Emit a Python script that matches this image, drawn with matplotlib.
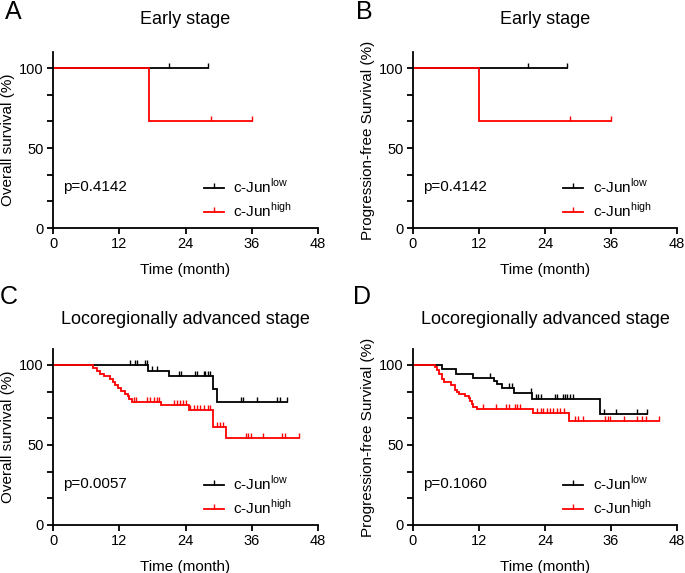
import numpy as np
import matplotlib
matplotlib.use("Agg")
import matplotlib.pyplot as plt
from matplotlib.lines import Line2D
from matplotlib.ticker import AutoMinorLocator

plt.rcParams['font.family'] = ['Liberation Sans', 'DejaVu Sans']

# ---- data (months, survival %) ----
# A: overall survival, early stage
a_low_t = [0]
a_low_s = [100]
a_low_end = 28
a_low_cens = [21, 28]
a_high_t = [0, 17.3]
a_high_s = [100, 66.7]
a_high_end = 36
a_high_cens = [28.6, 36]

# B: progression-free survival, early stage
b_low_t = [0]
b_low_s = [100]
b_low_end = 28
b_low_cens = [21, 28]
b_high_t = [0, 12]
b_high_s = [100, 66.7]
b_high_end = 36
b_high_cens = [28.6, 36]

# C: overall survival, locoregionally advanced stage
c_low_t = [0, 17.2, 21.1, 28.9, 29.7]
c_low_s = [100, 96.5, 93.2, 85.3, 76.6]
c_low_end = 42.4
c_low_cens = [14.0, 14.9, 15.3, 16.6, 17.0, 18.0, 18.8, 22.8, 23.2, 25.8, 26.1,
              27.3, 27.6, 28.0, 28.5, 34.0, 34.5, 36.9, 40.6, 41.1, 42.4]
c_high_t = [0, 7.3, 7.9, 8.5, 9.2, 10.3, 10.8, 11.2, 11.8, 12.4, 13.0, 13.5, 13.8, 14.3,
            19.5, 24.6, 29.0, 31.4]
c_high_s = [100, 98.2, 96.4, 94.6, 92.9, 91.1, 89.3, 87.5, 85.7, 83.9, 82.1, 80.4, 78.6, 76.8,
            74.8, 71.9, 61.2, 54.5]
c_high_end = 44.5
c_high_cens = [14.6, 15.1, 17.1, 17.5, 18.3, 18.8, 19.2, 21.9, 22.4, 23.0, 23.6, 24.1,
               24.9, 25.5, 26.1, 26.7, 27.3, 28.0, 28.5, 29.7, 30.3, 30.8,
               34.9, 35.3, 35.8, 38.1, 41.5, 42.1, 44.5]

# D: progression-free survival, locoregionally advanced stage
d_low_t = [0, 5.2, 7.9, 11.0, 14.7, 15.3, 16.2, 18.3, 21.7, 34.0]
d_low_s = [100, 97.2, 94.4, 91.8, 90.0, 88.4, 85.9, 82.6, 78.7, 69.6]
d_low_end = 42.6
d_low_cens = [14.0, 17.4, 18.0, 21.4, 22.4, 22.8, 23.3, 25.8, 26.2, 27.2, 27.6, 28.0,
              28.6, 29.1, 34.7, 37.0, 40.7, 42.6]
d_high_t = [0, 4.0, 4.4, 4.8, 5.2, 5.7, 6.9, 7.7, 8.0, 8.3, 9.5, 10.1, 10.4, 10.7, 11.0, 11.7,
            21.8, 28.4]
d_high_s = [100, 98.5, 96.9, 94.4, 91.4, 89.3, 87.5, 84.6, 83.0, 81.6, 80.4, 79.2, 77.6,
            75.7, 74.0, 72.6, 70.1, 65.2]
d_high_end = 44.8
d_high_cens = [12.8, 15.1, 17.0, 17.4, 18.6, 19.0, 19.4,
               22.6, 23.2, 23.7, 24.3, 24.9, 25.5, 26.1, 26.8, 27.4,
               29.4, 30.0, 31.0, 35.0, 35.4, 35.9, 38.4, 40.8, 41.7, 42.3, 44.8]

panels = [
    ("A", "Early stage", "Overall survival (%)", "p=0.4142",
     (a_low_t, a_low_s, a_low_end, a_low_cens), (a_high_t, a_high_s, a_high_end, a_high_cens)),
    ("B", "Early stage", "Progression-free Survival (%)", "p=0.4142",
     (b_low_t, b_low_s, b_low_end, b_low_cens), (b_high_t, b_high_s, b_high_end, b_high_cens)),
    ("C", "Locoregionally advanced stage", "Overall survival (%)", "p=0.0057",
     (c_low_t, c_low_s, c_low_end, c_low_cens), (c_high_t, c_high_s, c_high_end, c_high_cens)),
    ("D", "Locoregionally advanced stage", "Progression-free Survival (%)", "p=0.1060",
     (d_low_t, d_low_s, d_low_end, d_low_cens), (d_high_t, d_high_s, d_high_end, d_high_cens)),
]

W, H = 685, 573
fig = plt.figure(figsize=(W / 100, H / 100), dpi=100)

# axes boxes in pixels: left, top of axis (y=110), right, bottom (y=0)
boxes = [(53, 52, 318, 228), (413, 52, 677, 228), (53, 349, 318, 525), (413, 349, 677, 525)]
label_pos = [(13, 12), (364, 12), (9, 297), (362, 297)]
title_y = [20, 20, 320, 320]

low_col = "black"
high_col = "#ff0000"


def draw_km(ax, t, s, end, cens, color):
    xs = list(t) + [end]
    ys = list(s) + [s[-1]]
    ax.step(xs, ys, where="post", color=color, lw=1.3, solid_joinstyle="miter")
    idx = np.searchsorted(t, cens, side="right") - 1
    cy = np.array(s)[idx]
    ax.plot(cens, cy, linestyle="none", marker=2, markersize=3.5, mew=1.0, color=color)


for i, (lab, title, ylab, ptxt, low, high) in enumerate(panels):
    l, t, r, b = boxes[i]
    ax = fig.add_axes([l / W, 1 - b / H, (r - l) / W, (b - t) / H])
    draw_km(ax, *low, low_col)
    draw_km(ax, *high, high_col)

    ax.set_xlim(0, 48)
    ax.set_ylim(0, 110)
    ax.set_xticks([0, 12, 24, 36, 48])
    ax.set_yticks([0, 50, 100])
    ax.yaxis.set_minor_locator(AutoMinorLocator(3))
    for side in ["top", "right"]:
        ax.spines[side].set_visible(False)
    for side in ["left", "bottom"]:
        ax.spines[side].set_linewidth(1.3)
    ax.tick_params(which="both", direction="out", length=4, width=1.3, labelsize=10.5, pad=2.5)
    ax.set_xlabel("Time (month)", fontsize=11, labelpad=8.5)
    ax.set_ylabel(ylab, fontsize=11, labelpad=3)

    ax.text(1.8, 25.5, ptxt, fontsize=11, va="center", ha="left")

    handles = [Line2D([0], [0], color=low_col, lw=1.3, marker=2, markersize=3.5, mew=1.0),
               Line2D([0], [0], color=high_col, lw=1.3, marker=2, markersize=3.5, mew=1.0)]
    ax.legend(handles, [r"c-Jun$^{\mathregular{low}}$", r"c-Jun$^{\mathregular{high}}$"],
              loc="upper left", bbox_to_anchor=(0.57, 0.288), frameon=False, fontsize=11,
              handlelength=1.3, handletextpad=0.6, labelspacing=0.35, borderpad=0,
              borderaxespad=0, numpoints=1)

    fig.text(((l + r) / 2) / W, 1 - title_y[i] / H, title, fontsize=13, ha="center", va="center")
    fig.text(label_pos[i][0] / W, 1 - label_pos[i][1] / H, lab, fontsize=18, ha="center", va="center")

fig.savefig("out.png", dpi=100)
